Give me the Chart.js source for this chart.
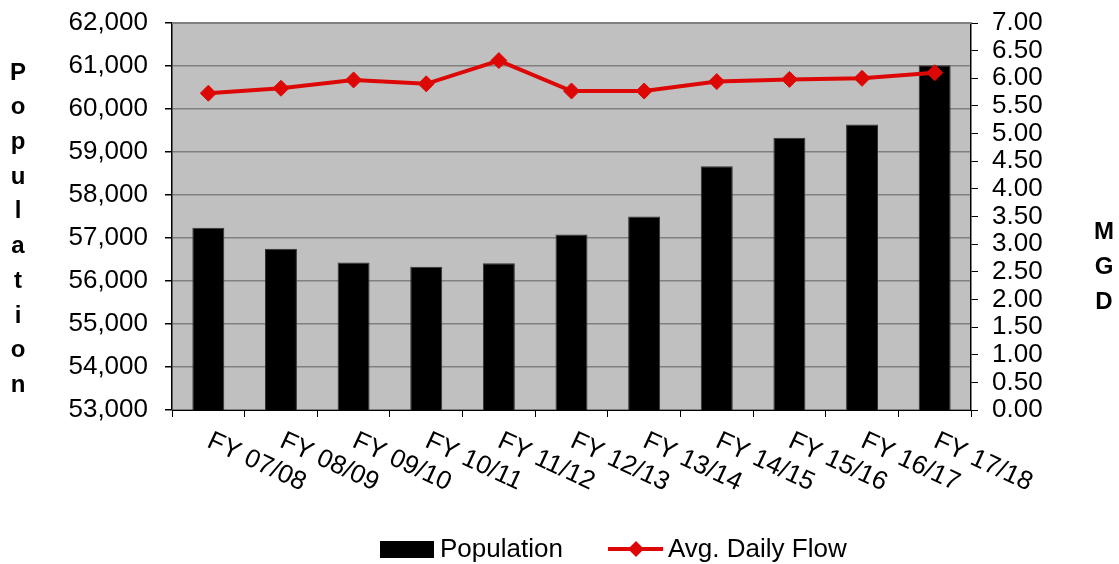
<!DOCTYPE html>
<html>
<head>
<meta charset="utf-8">
<title>Population and Avg. Daily Flow</title>
<script src="https://cdn.jsdelivr.net/npm/chart.js@4.4.0/dist/chart.umd.min.js"></script>
<style>
    html, body { margin: 0; padding: 0; background: #fff; }
    canvas { display: block; }
</style>
</head>
<body>
<canvas id="flowChart" width="1119" height="564"></canvas>
<script>
// Data
const years = ['FY 07/08', 'FY 08/09', 'FY 09/10', 'FY 10/11', 'FY 11/12', 'FY 12/13',
               'FY 13/14', 'FY 14/15', 'FY 15/16', 'FY 16/17', 'FY 17/18'];
const population = [57240, 56750, 56430, 56330, 56410, 57080, 57500, 58670, 59330, 59640, 61020];
const avgDailyFlow = [5.73, 5.82, 5.97, 5.90, 6.32, 5.77, 5.77, 5.94, 5.98, 6.00, 6.10];

const popAxis = { min: 53000, max: 62000, step: 1000 };
const mgdAxis = { min: 0, max: 7, step: 0.5 };

const leftTitle = 'Population';
const rightTitle = 'MGD';

const FONT = "'Liberation Sans', Arial, sans-serif";
const RED = '#dd0806';

// Plot background, x labels, stacked axis titles and legend
const chartDecor = {
    id: 'chartDecor',
    beforeDraw(chart) {
        const { ctx, chartArea: a } = chart;
        ctx.save();
        ctx.fillStyle = '#c0c0c0';
        ctx.fillRect(a.left, a.top, a.right - a.left, a.bottom - a.top);
        ctx.restore();
    },
    afterDraw(chart) {
        const { ctx, chartArea: a } = chart;
        const xScale = chart.scales.x;
        ctx.save();

        // top border of plot area
        ctx.strokeStyle = '#808080';
        ctx.lineWidth = 2;
        ctx.beginPath();
        ctx.moveTo(a.left, a.top);
        ctx.lineTo(a.right, a.top);
        ctx.stroke();

        // slanted category labels
        ctx.fillStyle = '#000';
        ctx.font = '26px ' + FONT;
        ctx.textAlign = 'left';
        ctx.textBaseline = 'top';
        years.forEach((label, i) => {
            const x = xScale.getPixelForValue(i);
            ctx.save();
            ctx.translate(x + 6, a.bottom + 18);
            ctx.rotate(25 * Math.PI / 180);
            ctx.fillText(label, 0, 0);
            ctx.restore();
        });

        // axis titles, one letter per line
        ctx.font = 'bold 24px ' + FONT;
        ctx.textAlign = 'center';
        ctx.textBaseline = 'middle';
        leftTitle.split('').forEach((ch, i) => {
            ctx.fillText(ch, 18, 73 + i * 34.7);
        });
        rightTitle.split('').forEach((ch, i) => {
            ctx.fillText(ch, 1104, 232 + i * 35);
        });

        // legend
        const barSet = chart.data.datasets.find(d => d.type === 'bar');
        const lineSet = chart.data.datasets.find(d => d.type === 'line');
        const ly = 549;
        ctx.font = '26px ' + FONT;
        ctx.textAlign = 'left';
        ctx.fillStyle = '#000';
        ctx.fillRect(380, ly - 8, 54, 17);
        ctx.fillText(barSet.label, 440, ly + 1);

        ctx.strokeStyle = RED;
        ctx.lineWidth = 4;
        ctx.beginPath();
        ctx.moveTo(608, ly);
        ctx.lineTo(663, ly);
        ctx.stroke();
        ctx.fillStyle = RED;
        ctx.beginPath();
        ctx.moveTo(636, ly - 8);
        ctx.lineTo(644, ly);
        ctx.lineTo(636, ly + 8);
        ctx.lineTo(628, ly);
        ctx.closePath();
        ctx.fill();
        ctx.fillStyle = '#000';
        ctx.fillText(lineSet.label, 668, ly + 1);

        ctx.restore();
    }
};

// fixed axis widths, no extra label padding above/below the plot
function fixWidth(w) {
    return function(scale) {
        scale.width = w;
        scale.paddingTop = 0;
        scale.paddingBottom = 0;
    };
}

const ctx = document.getElementById('flowChart').getContext('2d');
const flowChart = new Chart(ctx, {
    type: 'bar',
    data: {
        labels: years,
        datasets: [{
            type: 'line',
            label: 'Avg. Daily Flow',
            data: avgDailyFlow,
            yAxisID: 'y1',
            borderColor: RED,
            backgroundColor: RED,
            borderWidth: 4,
            pointStyle: 'rectRot',
            pointRadius: 8,
            pointBorderWidth: 1,
            tension: 0,
            order: 0
        }, {
            type: 'bar',
            label: 'Population',
            data: population,
            yAxisID: 'y',
            backgroundColor: '#000',
            borderColor: '#333',
            borderWidth: 1,
            barPercentage: 0.44,
            categoryPercentage: 1,
            order: 1
        }]
    },
    options: {
        responsive: false,
        animation: false,
        layout: { padding: { top: 23, left: 0, right: 0, bottom: 0 } },
        plugins: {
            legend: { display: false },
            tooltip: { enabled: false },
            title: { display: false }
        },
        scales: {
            x: {
                offset: true,
                grid: {
                    offset: true,
                    drawOnChartArea: false,
                    tickLength: 7,
                    color: '#000',
                    tickColor: '#000'
                },
                border: { color: '#000', width: 1 },
                ticks: { display: false },
                afterFit(scale) { scale.height = 154; }
            },
            y: {
                position: 'left',
                min: popAxis.min,
                max: popAxis.max,
                ticks: {
                    stepSize: popAxis.step,
                    autoSkip: false,
                    color: '#000',
                    padding: 17,
                    font: { family: FONT, size: 26 },
                    callback: v => v.toLocaleString('en-US')
                },
                grid: { color: '#808080', tickColor: '#000', tickLength: 7, lineWidth: 1.5 },
                border: { color: '#000', width: 1.5 },
                afterFit: fixWidth(172)
            },
            y1: {
                position: 'right',
                min: mgdAxis.min,
                max: mgdAxis.max,
                ticks: {
                    stepSize: mgdAxis.step,
                    autoSkip: false,
                    color: '#000',
                    padding: 14,
                    font: { family: FONT, size: 26 },
                    callback: v => v.toFixed(2)
                },
                grid: { drawOnChartArea: false, tickColor: '#000', tickLength: 7 },
                border: { color: '#000', width: 1.5 },
                afterFit: fixWidth(148)
            }
        }
    },
    plugins: [chartDecor]
});
</script>
</body>
</html>
